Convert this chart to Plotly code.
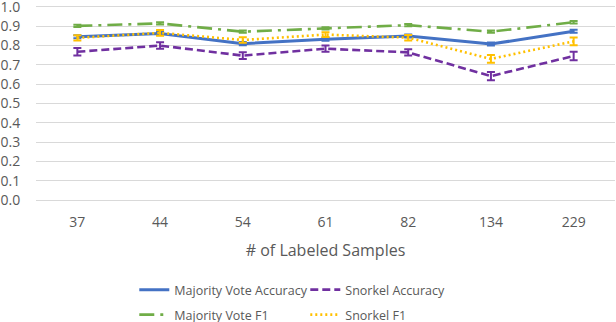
import plotly.graph_objects as go

samples = ['37', '44', '54', '61', '82', '134', '229']

mv_acc = [0.846, 0.863, 0.810, 0.833, 0.850, 0.808, 0.874]
mv_acc_err = [0.008, 0.008, 0.008, 0.008, 0.008, 0.008, 0.008]
sn_acc = [0.768, 0.800, 0.748, 0.784, 0.765, 0.642, 0.746]
sn_acc_err = [0.019, 0.017, 0.017, 0.016, 0.016, 0.021, 0.022]
mv_f1 = [0.902, 0.915, 0.872, 0.889, 0.906, 0.872, 0.921]
mv_f1_err = [0.006, 0.006, 0.006, 0.006, 0.006, 0.006, 0.006]
sn_f1 = [0.840, 0.866, 0.829, 0.857, 0.841, 0.731, 0.822]
sn_f1_err = [0.013, 0.015, 0.014, 0.012, 0.014, 0.020, 0.020]

y_ticks = [0.0, 0.1, 0.2, 0.3, 0.4, 0.5, 0.6, 0.7, 0.8, 0.9, 1.0]

series = [
    ('Majority Vote Accuracy', mv_acc, mv_acc_err, '#4472C4', 'solid', 3, 'legend'),
    ('Snorkel Accuracy', sn_acc, sn_acc_err, '#7030A0', '8px,4px', 2.6, 'legend'),
    ('Majority Vote F1', mv_f1, mv_f1_err, '#70AD47', 'longdashdot', 2.6, 'legend2'),
    ('Snorkel F1', sn_f1, sn_f1_err, '#FFC000', '2px,3px', 2.6, 'legend2'),
]

fig = go.Figure()
for name, vals, err, col, dash, w, leg in series:
    fig.add_trace(go.Scatter(
        x=samples, y=vals, name=name, mode='lines', legend=leg,
        line=dict(color=col, dash=dash, width=w),
        error_y=dict(type='data', array=err, color=col, thickness=2, width=4),
    ))

txt = '#595959'
# legends placed in container coords so they don't push the plot margins
legend_style = dict(orientation='h', xanchor='left', yanchor='middle',
                    xref='container', yref='container', x=0.218,
                    entrywidth=126, entrywidthmode='pixels', bgcolor='rgba(0,0,0,0)',
                    font=dict(family='Open Sans', size=12.5, color=txt),
                    itemclick=False, tracegroupgap=0)

fig.update_layout(
    width=616, height=322,
    margin=dict(l=36, r=1, t=4, b=122, autoexpand=False),
    plot_bgcolor='white', paper_bgcolor='white',
    font=dict(family='Open Sans', color=txt),
    legend=dict(legend_style, y=1 - 290 / 322),
    legend2=dict(legend_style, y=1 - 315 / 322),
    xaxis=dict(
        range=[-0.5, 6.5], automargin=False,
        showgrid=False, showline=False, ticks='',
        tickfont=dict(size=14, color=txt), ticklabelstandoff=12,
        title=dict(text='# of Labeled Samples', font=dict(size=16, color=txt), standoff=14),
    ),
    yaxis=dict(
        range=[0, 1.0155], tickvals=y_ticks, tickformat='.1f', automargin=False,
        showgrid=True, gridcolor='#D9D9D9', gridwidth=1,
        zeroline=True, zerolinecolor='#D9D9D9', zerolinewidth=1,
        ticks='outside', ticklen=12, tickcolor='rgba(0,0,0,0)',
        ticklabeloverflow='allow',
        tickfont=dict(size=14, color=txt),
    ),
)

# page body has a default 8px margin; drop it so the figure sits at the window corner
fig.write_html('out.html', config={'displayModeBar': False},
               post_script="document.body.style.margin='0';")
